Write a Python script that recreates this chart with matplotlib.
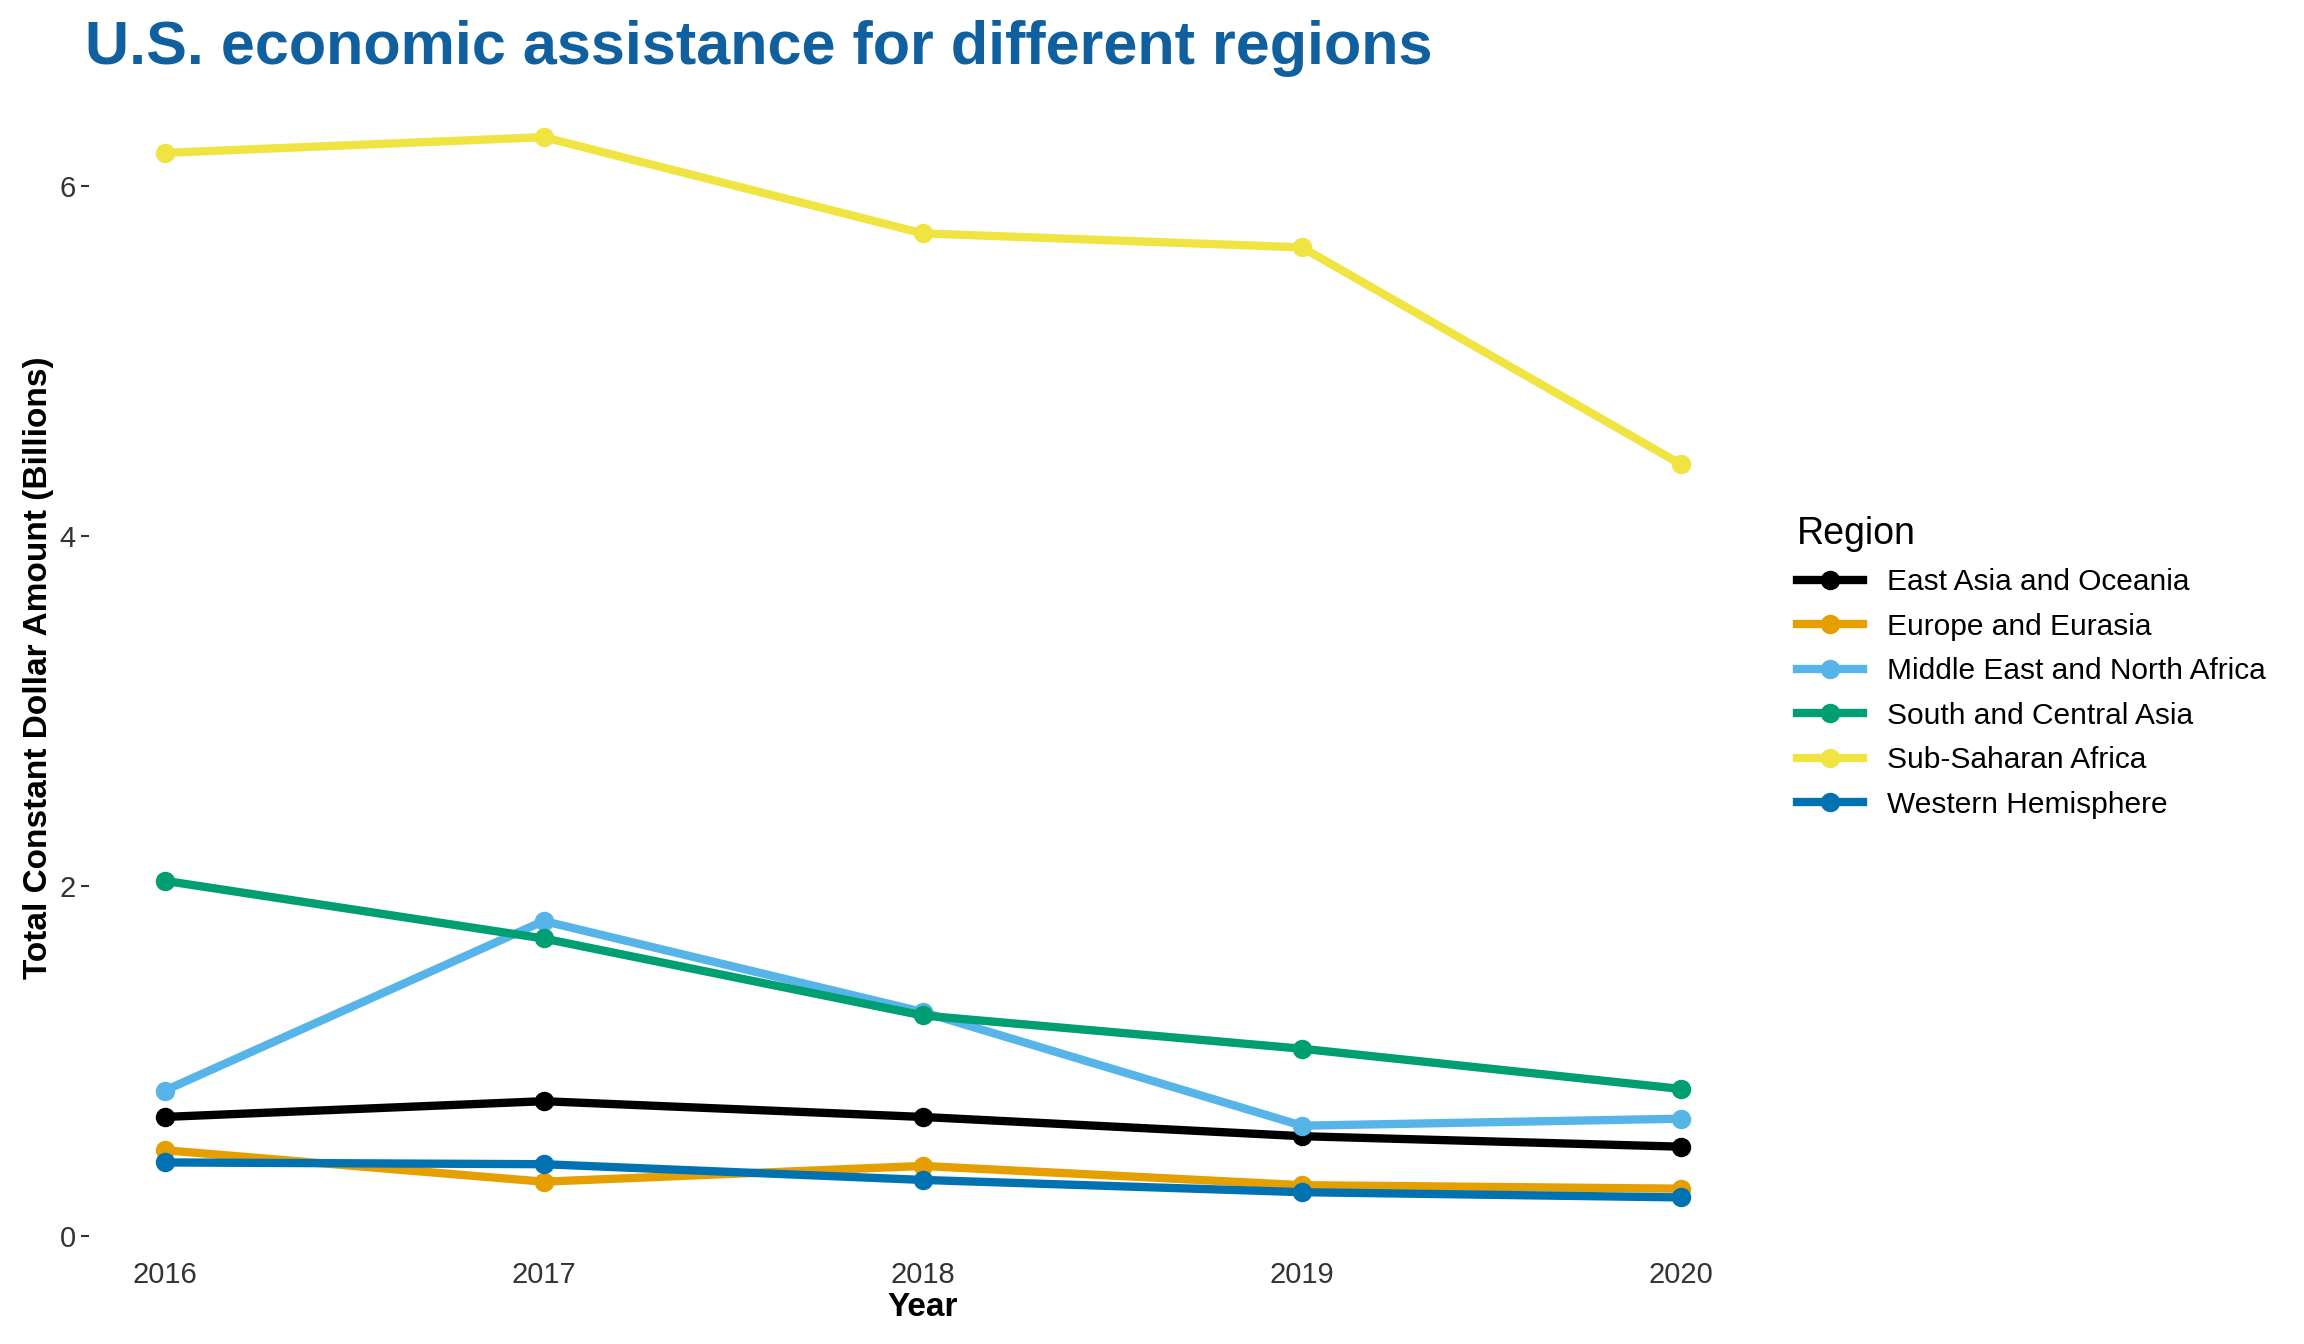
import matplotlib
matplotlib.use("Agg")
import matplotlib.pyplot as plt

years = [2016, 2017, 2018, 2019, 2020]
regions = ["East Asia and Oceania", "Europe and Eurasia", "Middle East and North Africa",
           "South and Central Asia", "Sub-Saharan Africa", "Western Hemisphere"]
east_asia = [0.68, 0.77, 0.68, 0.57, 0.51]
europe = [0.49, 0.31, 0.40, 0.29, 0.27]
mena = [0.83, 1.80, 1.28, 0.63, 0.67]
south_central = [2.03, 1.70, 1.26, 1.07, 0.84]
sub_saharan = [6.19, 6.28, 5.73, 5.65, 4.41]
western = [0.42, 0.41, 0.32, 0.25, 0.22]
series = [east_asia, europe, mena, south_central, sub_saharan, western]
colors = ["#000000", "#E69F00", "#56B4E9", "#009E73", "#F0E442", "#0072B2"]

plt.rcParams['font.family'] = ['Liberation Sans', 'DejaVu Sans']
fig = plt.figure(figsize=(23.04, 13.44), dpi=100)
ax = fig.add_axes([0.0385, 0.070, 0.724, 0.867])

for name, vals, c in zip(regions, series, colors):
    ax.plot(years, vals, color=c, linewidth=6, marker='o', markersize=13, label=name)

ax.set_xlim(2015.8, 2020.2)
ax.set_ylim(-0.08, 6.58)
ax.set_xticks(years)
ax.set_yticks([0, 2, 4, 6])
for s in ax.spines.values():
    s.set_visible(False)
ax.tick_params(axis='both', labelsize=21, colors='#333333', length=6, width=1.5)
ax.tick_params(axis='x', length=0, pad=8)
ax.set_xlabel("Year", fontsize=24, fontweight='bold', labelpad=2)
ax.set_ylabel("Total Constant Dollar Amount (Billions)", fontsize=24, fontweight='bold')

fig.text(0.037, 0.985, "U.S. economic assistance for different regions", fontsize=44,
         fontweight='bold', color='#1060A0', va='top')

leg = ax.legend(loc='center left', bbox_to_anchor=(1.008, 0.5), frameon=False,
                fontsize=21.5, title="Region", title_fontsize=27, handlelength=2.2,
                labelspacing=0.55)
leg._legend_box.align = "left"

fig.savefig("out.png", dpi=100, facecolor='white')
